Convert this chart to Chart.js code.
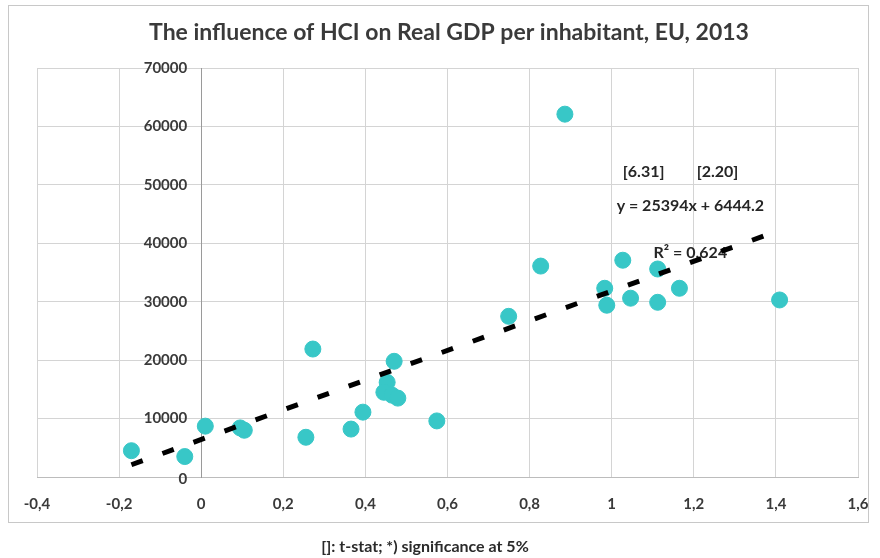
<!DOCTYPE html>
<html><head><meta charset="utf-8">
<script src="https://cdn.jsdelivr.net/npm/chart.js@4/dist/chart.umd.min.js"></script>
<style>html,body{margin:0;padding:0;background:#fff;}#wrap{width:880px;height:558px;}</style>
</head><body><div id="wrap"><canvas id="c" width="880" height="558"></canvas></div>
<script>
// ---- data ----
const hciValues = [-0.17, -0.04, 0.01, 0.095, 0.105, 0.272, 0.255, 0.365, 0.394, 0.47, 0.453, 0.445, 0.465, 0.479, 0.574, 0.749, 0.827, 0.886, 0.983, 0.988, 1.027, 1.046, 1.112, 1.112, 1.165, 1.409];
const gdpValues = [4500, 3500, 8700, 8400, 8000, 21900, 6800, 8200, 11100, 19800, 16200, 14500, 14000, 13500, 9600, 27500, 36100, 62100, 32300, 29400, 37100, 30600, 35600, 29900, 32300, 30300];
const trendX = [-0.17, 1.41];
const trendY = [2100, 42250];
const xTicks = [-0.4, -0.2, 0, 0.2, 0.4, 0.6, 0.8, 1, 1.2, 1.4, 1.6];
const yTicks = [0, 10000, 20000, 30000, 40000, 50000, 60000, 70000];
const titleText = "The influence of HCI on Real GDP per inhabitant, EU, 2013";
const footnoteText = "[]: t-stat; *) significance at 5%";
const noteTexts = ["[6.31]", "[2.20]", "y = 25394x + 6444.2", "R\u00B2 = 0.624"];
const noteX = [1.027, 1.207, 1.012, 1.102];
const noteY = [52300, 52300, 46400, 38300];

const FONT = "Lato, 'Open Sans', sans-serif";

const decor = {
  id: 'decor',
  beforeDraw(chart) {
    const ctx = chart.ctx;
    ctx.save();
    ctx.fillStyle = '#fff';
    ctx.fillRect(0, 0, chart.width, chart.height);
    ctx.strokeStyle = '#c8c8c8';
    ctx.lineWidth = 1;
    ctx.strokeRect(8.5, 5.5, 860, 517);
    ctx.fillStyle = '#3a3a3a';
    ctx.font = "bold 23px " + FONT;
    ctx.textAlign = 'center';
    ctx.textBaseline = 'middle';
    ctx.fillText(titleText, 449, 33);
    ctx.font = "bold 16px " + FONT;
    ctx.fillStyle = '#2a2a2a';
    ctx.fillText(footnoteText, 425, 547);
    ctx.restore();
  },
  beforeDatasetsDraw(chart) {
    const ctx = chart.ctx;
    const xs = chart.scales.x, ys = chart.scales.y;
    ctx.save();
    // y-axis tick labels, placed at the x=0 crossing
    ctx.fillStyle = '#3a3a3a';
    ctx.font = "bold 15px " + FONT;
    ctx.textAlign = 'right';
    ctx.textBaseline = 'middle';
    const ax = xs.getPixelForValue(0);
    yTicks.forEach(v => {
      ctx.fillText(String(v), ax - 14, ys.getPixelForValue(v) + (v === 0 ? 2 : 0));
    });
    // regression annotations
    ctx.fillStyle = '#262626';
    ctx.font = "bold 16px " + FONT;
    ctx.textAlign = 'left';
    noteTexts.forEach((t, i) => {
      ctx.fillText(t, xs.getPixelForValue(noteX[i]), ys.getPixelForValue(noteY[i]));
    });
    ctx.restore();
  }
};

const fmt = v => Number(v.toFixed(1)).toString().replace('.', ',');

new Chart(document.getElementById('c'), {
  data: {
    datasets: [
      {
        type: 'line',
        data: trendX.map((x, i) => ({x, y: trendY[i]})),
        borderColor: '#000',
        borderWidth: 5,
        borderDash: [12, 21],
        pointRadius: 0,
        fill: false,
        order: 0
      },
      {
        type: 'scatter',
        data: hciValues.map((x, i) => ({x, y: gdpValues[i]})),
        backgroundColor: '#38c7c7',
        borderColor: '#38c7c7',
        pointRadius: 8,
        pointHoverRadius: 8,
        order: 1
      }
    ]
  },
  options: {
    responsive: false,
    animation: false,
    devicePixelRatio: 1,
    layout: { padding: { left: 37, right: 22, top: 68, bottom: 0 } },
    plugins: { legend: { display: false }, title: { display: false }, tooltip: { enabled: false } },
    scales: {
      x: {
        type: 'linear',
        position: 'bottom',
        min: -0.4, max: 1.6,
        afterBuildTicks: s => { s.ticks = xTicks.map(v => ({value: v})); },
        afterFit: s => { s.height = 81; s.paddingLeft = 0; s.paddingRight = 0; },
        grid: { color: '#d4d4d4', lineWidth: 1, drawTicks: false },
        border: { display: true, color: '#bcbcbc' },
        ticks: { padding: 18, color: '#3a3a3a', font: { family: FONT, size: 15, weight: 'bold' }, callback: v => fmt(v), maxRotation: 0, autoSkip: false }
      },
      y: {
        type: 'linear',
        position: { x: 0 },
        min: 0, max: 70000,
        afterBuildTicks: s => { s.ticks = yTicks.map(v => ({value: v})); },
        afterFit: s => { s.width = 0; s.paddingTop = 0; s.paddingBottom = 0; },
        grid: { color: '#d4d4d4', lineWidth: 1, drawTicks: false },
        border: { display: true, color: '#9a9a9a' },
        ticks: { display: false }
      }
    }
  },
  plugins: [decor]
});
</script></body></html>
